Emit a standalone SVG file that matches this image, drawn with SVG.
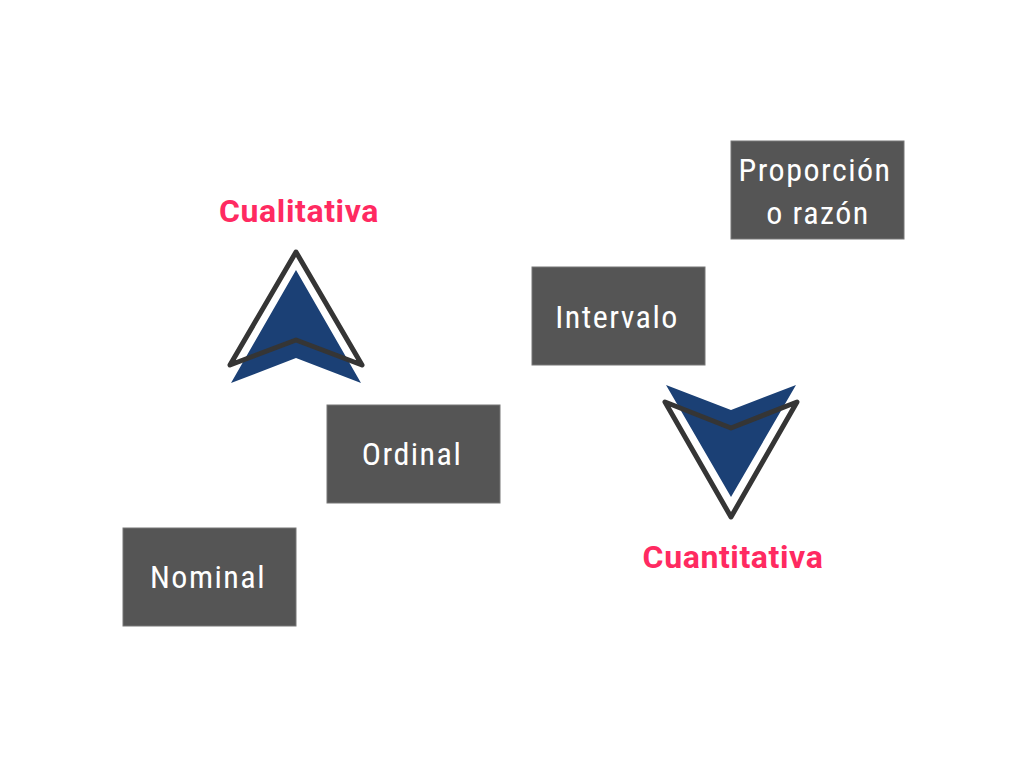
<svg xmlns="http://www.w3.org/2000/svg" width="1024" height="768" viewBox="0 0 1024 768">
<style>
.box{fill:#555555;stroke:#777;stroke-width:1}
.lbl{font-family:"Roboto","Open Sans",sans-serif;font-size:32px;fill:#ffffff;text-anchor:middle;letter-spacing:1.5px;font-stretch:condensed}
.cat{font-family:"Roboto","Open Sans",sans-serif;font-weight:bold;font-size:32px;fill:#ff2a61;text-anchor:middle;letter-spacing:0.6px}
.blue{fill:#1b4075}
.outl{fill:none;stroke:#353535;stroke-width:5;stroke-linejoin:round;stroke-linecap:round}
</style>
<rect width="1024" height="768" fill="#ffffff"/>
<g id="cualitativa">
<polygon class="blue" points="296,270 361,383 296,358 231,383"/>
<polygon class="outl" points="296,252 362,365 296,340 230,365"/>
<text class="cat" x="299" y="222">Cualitativa</text>
</g>
<g id="cuantitativa">
<polygon class="blue" points="666,385 731,410 796,385 731,497"/>
<polygon class="outl" points="665,402 731,428 797,402 731,517"/>
<text class="cat" x="733" y="568">Cuantitativa</text>
</g>
<g id="nominal">
<rect class="box" x="123" y="528" width="173" height="98"/>
<text class="lbl" x="208" y="588">Nominal</text>
</g>
<g id="ordinal">
<rect class="box" x="327" y="405" width="173" height="98"/>
<text class="lbl" x="412" y="465">Ordinal</text>
</g>
<g id="intervalo">
<rect class="box" x="532" y="267" width="173" height="98"/>
<text class="lbl" x="617" y="328">Intervalo</text>
</g>
<g id="proporcion">
<rect class="box" x="731" y="141" width="173" height="98"/>
<text class="lbl" x="815" y="181">Proporción</text>
<text class="lbl" x="818" y="224">o razón</text>
</g>
<g id="connectors"></g>
</svg>
